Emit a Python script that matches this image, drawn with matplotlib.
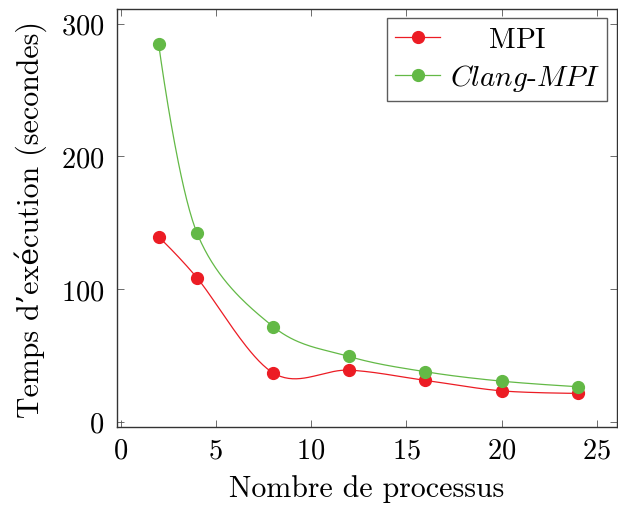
import numpy as np
import matplotlib
matplotlib.use("Agg")
import matplotlib.pyplot as plt

# data
procs = [2, 4, 8, 12, 16, 20, 24]
mpi = [139.3, 108.7, 36.9, 38.9, 31.2, 23.3, 21.4]
clang_mpi = [284.4, 142.6, 71.8, 49.2, 37.7, 30.6, 26.4]

x_ticks = [0, 5, 10, 15, 20, 25]
y_ticks = [0, 100, 200, 300]

plt.rcParams['font.family'] = ['cmr10', 'DejaVu Serif']
plt.rcParams['mathtext.fontset'] = 'cm'
plt.rcParams['axes.formatter.use_mathtext'] = True


def smooth(xs, ys, n=40):
    # pgfplots "smooth": bezier segments, control points from neighbours
    p = np.column_stack([xs, ys]).astype(float)
    out = []
    k = 1 / 6
    for i in range(len(p) - 1):
        a, b = p[i], p[i + 1]
        c1 = a + k * (p[i + 1] - p[i - 1]) if i > 0 else a
        c2 = b - k * (p[i + 2] - p[i]) if i + 2 < len(p) else b
        t = np.linspace(0, 1, n)[:, None]
        seg = ((1 - t) ** 3 * a + 3 * (1 - t) ** 2 * t * c1
               + 3 * (1 - t) * t ** 2 * c2 + t ** 3 * b)
        out.append(seg if i == 0 else seg[1:])
    s = np.vstack(out)
    return s[:, 0], s[:, 1]


fig = plt.figure(figsize=(6.18, 5.06), dpi=100)
ax = fig.add_axes([0.189, 0.154, 0.809, 0.826])

red = '#ec1c24'
green = '#63b946'

# MPI label padded so it sits centred like the pgfplots legend
for ys, col, lab in [(mpi, red, r'$\hspace{1.5}$MPI'),
                     (clang_mpi, green, r'$\mathit{Clang}$-$\mathit{MPI}\hspace{0.3}$')]:
    sx, sy = smooth(procs, ys)
    ax.plot(sx, sy, color=col, lw=0.9)
    ax.plot(procs, ys, 'o', color=col, ms=8.5)
    ax.plot([], [], '-o', color=col, lw=0.9, ms=8.5, label=lab)

ax.set_xlim(-0.2, 26.05)
ax.set_ylim(-4, 311)
ax.set_xticks(x_ticks)
ax.set_yticks(y_ticks)
ax.tick_params(direction='in', length=5, width=0.6, color='#555555',
               top=True, right=True, labelsize=20.5)
ax.tick_params(axis='x', pad=7)
ax.tick_params(axis='y', pad=9)
for sp in ax.spines.values():
    sp.set_linewidth(1.0)
    sp.set_color('#333333')

ax.set_xlabel('Nombre de processus', fontsize=21.5, labelpad=8)
ax.set_ylabel('Temps d’exécution (secondes)', fontsize=21.5, labelpad=10)

leg = ax.legend(loc='upper right', fontsize=21, frameon=True, fancybox=False,
                edgecolor='#333333', borderaxespad=0.32, handlelength=1.54,
                handletextpad=0.32, borderpad=0.28, labelspacing=0.3)
leg.get_frame().set_linewidth(1.0)

fig.savefig('out.png', dpi=100)
